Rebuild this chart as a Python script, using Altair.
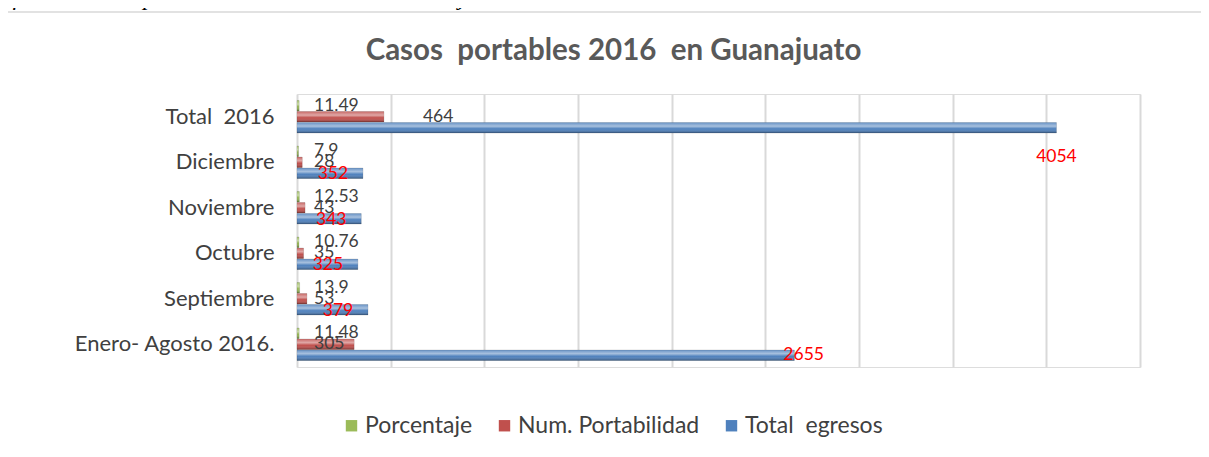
import altair as alt
import pandas as pd

NB = "\u00a0"
categories = ["Total" + NB + " 2016", "Diciembre", "Noviembre", "Octubre", "Septiembre", "Enero- Agosto 2016."]
series = ["Porcentaje", "Num. Portabilidad", "Total" + NB + " egresos"]
porcentaje = [11.49, 7.9, 12.53, 10.76, 13.9, 11.48]
num_portabilidad = [464, 28, 43, 35, 53, 305]
total_egresos = [4054, 352, 343, 325, 379, 2655]
series_colors = ["#9bbb59", "#c0504d", "#4f81bd"]
grid_values = [0, 500, 1000, 1500, 2000, 2500, 3000, 3500, 4000, 4500]

chart_title = "Casos" + NB + " portables 2016" + NB + " en Guanajuato"
caption = "Gráfica 2. Casos portables en el Estado de Guanajuato 2016."

rows = []
for s, vals in zip(series, [porcentaje, num_portabilidad, total_egresos]):
    for c, v in zip(categories, vals):
        rows.append({"categoria": c, "serie": s, "valor": v, "etiqueta": str(v)})
df = pd.DataFrame(rows)

TOTAL = categories[0]
ENERO = categories[-1]

FONT = "Lato"

base = alt.Chart(df).encode(
    y=alt.Y(
        "categoria:N",
        sort=categories,
        scale=alt.Scale(paddingInner=0, paddingOuter=0),
        axis=alt.Axis(
            title=None, ticks=False, domain=False, grid=False,
            labelFontSize=22, labelColor="#404040", labelFont=FONT,
            labelPadding=23, labelLimit=400,
        ),
    ),
    yOffset=alt.YOffset(
        "serie:N", sort=series,
        scale=alt.Scale(paddingInner=0.05, paddingOuter=0.59),
    ),
)

xscale = alt.Scale(domain=[0, 4500], nice=False, zero=True)
xaxis = alt.Axis(
    values=grid_values, labels=False, ticks=False, domain=False, title=None,
    grid=True, gridColor="#d9d9d9", gridWidth=2,
)

bars = base.mark_bar(stroke="rgba(0,0,0,0.25)", strokeWidth=0.5).encode(
    x=alt.X("valor:Q", scale=xscale, axis=xaxis),
    color=alt.Color(
        "serie:N", sort=series,
        scale=alt.Scale(domain=series, range=series_colors),
        legend=alt.Legend(
            title=None, orient="none", direction="horizontal",
            legendX=43, legendY=320, symbolType="square", symbolSize=130,
            symbolStrokeWidth=0, labelFontSize=23, labelFont=FONT,
            labelColor="#404040", labelOffset=2, columnPadding=20,
            labelLimit=500,
        ),
    ),
)

gloss = base.mark_bar(
    color=alt.Gradient(
        gradient="linear", x1=0, x2=0, y1=0, y2=1,
        stops=[
            alt.GradientStop(offset=0, color="rgba(255,255,255,0.15)"),
            alt.GradientStop(offset=0.35, color="rgba(255,255,255,0.5)"),
            alt.GradientStop(offset=0.6, color="rgba(255,255,255,0.0)"),
            alt.GradientStop(offset=1, color="rgba(0,0,0,0.35)"),
        ],
    )
).encode(x=alt.X("valor:Q", scale=xscale))

text_common = dict(baseline="middle", fontSize=17.5, font=FONT)

t_green = base.transform_filter(alt.datum.serie == series[0]).mark_text(
    align="left", dx=17, color="#404040", **text_common
).encode(x=alt.datum(0), text="etiqueta:N")

t_red_months = base.transform_filter(
    (alt.datum.serie == series[1]) & (alt.datum.categoria != TOTAL)
).mark_text(align="left", dx=17, color="#404040", **text_common).encode(
    x=alt.datum(0), text="etiqueta:N"
)

t_red_total = base.transform_filter(
    (alt.datum.serie == series[1]) & (alt.datum.categoria == TOTAL)
).mark_text(align="left", dx=39, color="#404040", **text_common).encode(
    x="valor:Q", text="etiqueta:N"
)

t_blue_months = base.transform_filter(
    (alt.datum.serie == series[2]) & (alt.datum.categoria != TOTAL) & (alt.datum.categoria != ENERO)
).mark_text(align="center", dx=-30, dy=1, color="#ff0000", **text_common).encode(
    x="valor:Q", text="etiqueta:N"
)

t_blue_total = base.transform_filter(
    (alt.datum.serie == series[2]) & (alt.datum.categoria == TOTAL)
).mark_text(align="center", dy=29, color="#ff0000", **text_common).encode(
    x="valor:Q", text="etiqueta:N"
)

t_blue_enero = base.transform_filter(
    (alt.datum.serie == series[2]) & (alt.datum.categoria == ENERO)
).mark_text(align="left", dx=-11, color="#ff0000", **text_common).encode(
    x="valor:Q", text="etiqueta:N"
)

frame_df = pd.DataFrame({"k": [0]})
top_border = alt.Chart(frame_df).mark_rule(color="#d9d9d9", strokeWidth=1.5).encode(
    x=alt.value(-289), x2=alt.value(904), y=alt.value(-82)
)

cap_df = pd.DataFrame({"t": [caption]})
caption_text = alt.Chart(cap_df).mark_text(
    align="left", baseline="alphabetic", font="Liberation Serif",
    fontStyle="italic", fontSize=24, color="#000000",
).encode(x=alt.value(-323), y=alt.value(-89), text="t:N")

title_df = pd.DataFrame({"t": [chart_title]})
title_text = alt.Chart(title_df).mark_text(
    align="center", baseline="alphabetic", font=FONT, fontWeight="bold",
    fontSize=29.5, color="#595959",
).encode(x=alt.value(316.5), y=alt.value(-34), text="t:N")

chart = alt.layer(
    top_border, caption_text, title_text, bars, gloss,
    t_green, t_red_months, t_red_total, t_blue_months, t_blue_total, t_blue_enero,
).properties(
    width=843, height=273,
    autosize=alt.AutoSizeParams(type="none"),
    padding={"left": 289, "top": 86, "right": 61, "bottom": 82},
).configure_view(stroke=None).configure(background="white")

chart.save("out.html", embed_options={"renderer": "svg", "actions": False})
